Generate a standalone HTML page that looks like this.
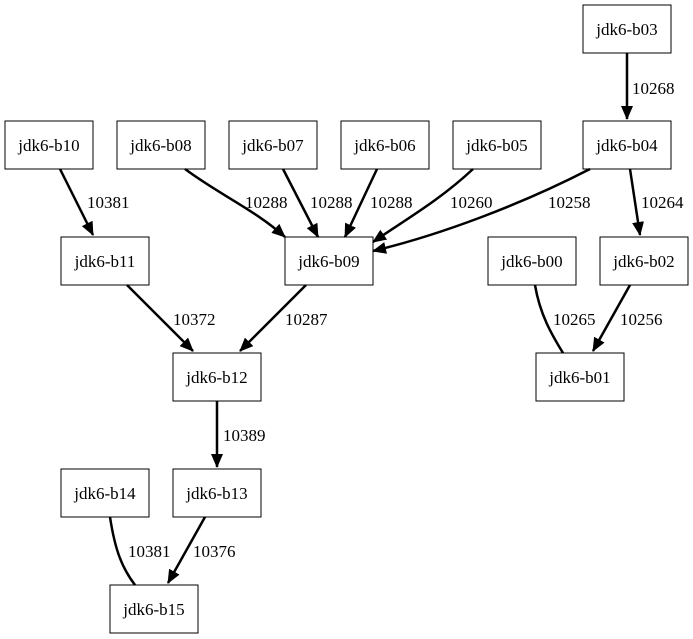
<!DOCTYPE html>
<html><head><meta charset="utf-8"><style>body{margin:0;background:#fff}svg{display:block}</style></head><body>
<svg width="693" height="639" xmlns="http://www.w3.org/2000/svg" font-family="Liberation Serif, serif" font-size="17">
<defs><marker id="a" markerWidth="14" markerHeight="12" refX="13" refY="6" orient="auto" markerUnits="userSpaceOnUse"><path d="M0,0 L14,6 L0,12 z" fill="#000"/></marker></defs>
<g fill="#fff" stroke="#000" stroke-width="1">
<rect x="583" y="5" width="88" height="48"/>
<rect x="5" y="121" width="88" height="48"/>
<rect x="117" y="121" width="88" height="48"/>
<rect x="229" y="121" width="88" height="48"/>
<rect x="341" y="121" width="88" height="48"/>
<rect x="453" y="121" width="88" height="48"/>
<rect x="583" y="121" width="88" height="48"/>
<rect x="61" y="237" width="88" height="48"/>
<rect x="285" y="237" width="88" height="48"/>
<rect x="488" y="237" width="88" height="48"/>
<rect x="600" y="237" width="88" height="48"/>
<rect x="173" y="353" width="88" height="48"/>
<rect x="536" y="353" width="88" height="48"/>
<rect x="61" y="469" width="88" height="48"/>
<rect x="173" y="469" width="88" height="48"/>
<rect x="110" y="585" width="88" height="48"/>
</g>
<g text-anchor="middle">
<text x="627" y="35">jdk6-b03</text>
<text x="49" y="151">jdk6-b10</text>
<text x="161" y="151">jdk6-b08</text>
<text x="273" y="151">jdk6-b07</text>
<text x="385" y="151">jdk6-b06</text>
<text x="497" y="151">jdk6-b05</text>
<text x="627" y="151">jdk6-b04</text>
<text x="105" y="267">jdk6-b11</text>
<text x="329" y="267">jdk6-b09</text>
<text x="532" y="267">jdk6-b00</text>
<text x="644" y="267">jdk6-b02</text>
<text x="217" y="383">jdk6-b12</text>
<text x="580" y="383">jdk6-b01</text>
<text x="105" y="499">jdk6-b14</text>
<text x="217" y="499">jdk6-b13</text>
<text x="154" y="615">jdk6-b15</text>
</g>
<g fill="none" stroke="#000" stroke-width="2.5">
<path d="M627,53 L627,119" marker-end="url(#a)"/>
<path d="M60,169 L93,235" marker-end="url(#a)"/>
<path d="M185,169 C220,195 255,210 285,237" marker-end="url(#a)"/>
<path d="M283,169 L318,237" marker-end="url(#a)"/>
<path d="M377,169 L345,237" marker-end="url(#a)"/>
<path d="M473,169 C440,200 405,220 373,242" marker-end="url(#a)"/>
<path d="M590,169 C520,205 440,235 373,251" marker-end="url(#a)"/>
<path d="M630,169 L640,235" marker-end="url(#a)"/>
<path d="M127,285 L193,351" marker-end="url(#a)"/>
<path d="M306,285 L240,351" marker-end="url(#a)"/>
<path d="M535,285 C540,315 552,335 563,353"/>
<path d="M630,285 L593,351" marker-end="url(#a)"/>
<path d="M217,401 L217,467" marker-end="url(#a)"/>
<path d="M110,517 C115,550 122,568 135,585"/>
<path d="M205,517 L168,583" marker-end="url(#a)"/>
</g>
<g>
<text x="632" y="94">10268</text>
<text x="87" y="208">10381</text>
<text x="245" y="208">10288</text>
<text x="310" y="208">10288</text>
<text x="370" y="208">10288</text>
<text x="450" y="208">10260</text>
<text x="548" y="208">10258</text>
<text x="641" y="208">10264</text>
<text x="173" y="325">10372</text>
<text x="285" y="325">10287</text>
<text x="553" y="325">10265</text>
<text x="620" y="325">10256</text>
<text x="223" y="441">10389</text>
<text x="128" y="557">10381</text>
<text x="193" y="557">10376</text>
</g>
</svg>
</body></html>
